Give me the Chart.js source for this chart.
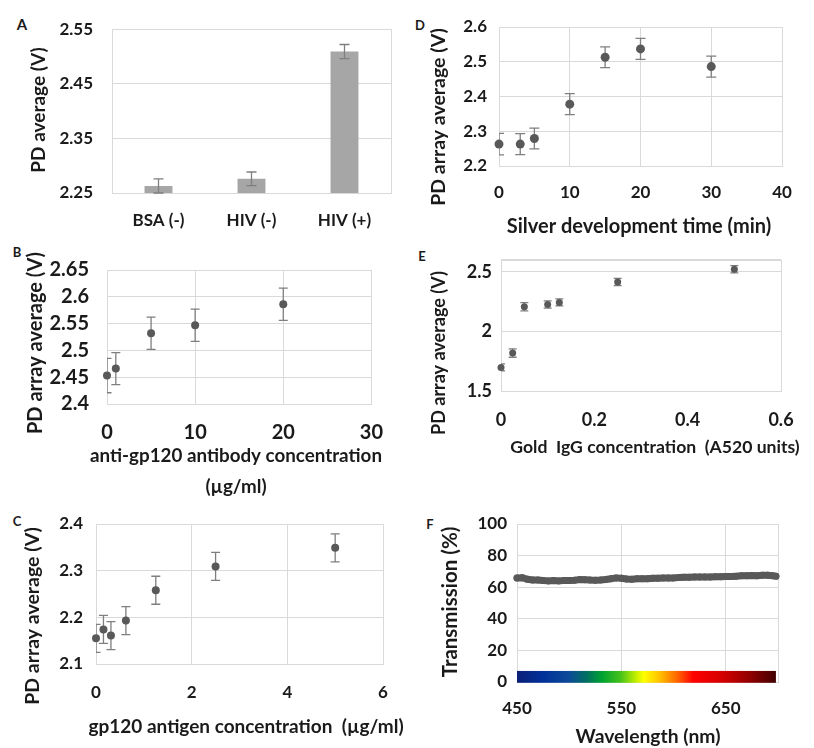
<!DOCTYPE html>
<html><head><meta charset="utf-8">
<script src="https://cdn.jsdelivr.net/npm/chart.js@4.4.1/dist/chart.umd.min.js"></script>
<style>
html,body{margin:0;padding:0;background:#fff;}
body{width:814px;height:748px;position:relative;overflow:hidden;font-family:Lato,sans-serif;}
canvas{position:absolute;}
.lbl{position:absolute;font-weight:bold;font-size:13px;font-family:Lato,sans-serif;color:#1a1a1a;transform:translate(-50%,-50%);line-height:1;}
</style></head><body>
<div class="lbl" style="left:22px;top:24px;font-size:15px">A</div>
<div class="lbl" style="left:420px;top:25px">D</div>
<div class="lbl" style="left:17px;top:252px">B</div>
<div class="lbl" style="left:422px;top:256px">E</div>
<div class="lbl" style="left:17px;top:521px">C</div>
<div class="lbl" style="left:430px;top:524px">F</div>
<canvas id="cA" width="400" height="240" style="left:0;top:0"></canvas>
<canvas id="cD" width="414" height="240" style="left:400px;top:0"></canvas>
<canvas id="cB" width="400" height="264" style="left:0;top:240px"></canvas>
<canvas id="cE" width="414" height="240" style="left:400px;top:240px"></canvas>
<canvas id="cF" width="414" height="248" style="left:400px;top:500px"></canvas>
<canvas id="cC" width="412" height="248" style="left:0;top:500px"></canvas>
<script>
// ---------- DATA ----------
const catA = ['BSA (-)', 'HIV (-)', 'HIV (+)'];
const valA = [2.263, 2.276, 2.509];
const errA = [0.013, 0.0125, 0.013];

const timeD = [0, 3, 5, 10, 15, 20, 30];
const valD = [2.263, 2.263, 2.279, 2.378, 2.513, 2.537, 2.486];
const errD = [0.031, 0.03, 0.03, 0.03, 0.03, 0.03, 0.03];

const concB = [0, 1, 5, 10, 20];
const valB = [2.453, 2.466, 2.532, 2.547, 2.586];
const errB = [0.032, 0.03, 0.03, 0.03, 0.03];

const goldE = [0, 0.025, 0.05, 0.1, 0.125, 0.25, 0.5];
const valE = [1.698, 1.818, 2.206, 2.225, 2.243, 2.414, 2.521];
const errE = [0.03, 0.035, 0.035, 0.03, 0.03, 0.03, 0.03];
const yTicksE = [1.5, 2, 2.5, 2.6];

const concC = [0, 0.156, 0.3125, 0.625, 1.25, 2.5, 5];
const valC = [2.155, 2.174, 2.161, 2.193, 2.258, 2.309, 2.349];
const errC = [0.03, 0.03, 0.03, 0.03, 0.03, 0.03, 0.03];

const waveF = [450,455,460,465,470,475,480,485,490,495,500,505,510,515,520,525,530,535,540,545,550,555,560,565,570,575,580,585,590,595,600,605,610,615,620,625,630,635,640,645,650,655,660,665,670,675,680,685,690,695,698];
const transF = [65.8,66.0,65.0,64.6,64.6,64.3,64.0,64.2,64.0,64.3,64.2,64.4,64.8,64.7,64.5,64.4,64.6,64.9,65.4,65.9,65.7,65.2,65.1,65.3,65.4,65.4,65.6,65.6,65.8,65.8,65.9,66.1,66.3,66.3,66.4,66.4,66.4,66.5,66.6,66.6,66.7,66.8,67.0,67.2,67.3,67.4,67.3,67.5,67.6,67.2,67.0];
const xTicksF = [450, 550, 650, 700];
const spectrumF = {from: 450, to: 698, low: -0.5, high: 7};

// ---------- STYLE ----------
const GRID = '#d9d9d9';
const TXT = '#1a1a1a';
const FONT = 'Lato';
const MARK = '#595959';
const ERR = '#7f7f7f';

// ---------- PLUGINS ----------
const boxPlugin = {
  id: 'box',
  beforeDatasetsDraw(chart) {
    const a = chart.chartArea, ctx = chart.ctx;
    ctx.save(); ctx.strokeStyle = GRID; ctx.lineWidth = 1;
    ctx.strokeRect(Math.round(a.left) + 0.5, Math.round(a.top) + 0.5, Math.round(a.right - a.left), Math.round(a.bottom - a.top));
    ctx.restore();
  }
};
function drawErr(chart, onTop) {
  const ctx = chart.ctx;
  chart.data.datasets.forEach((ds, i) => {
    if (!ds.errors || !!ds.errorOnTop !== onTop) return;
    const meta = chart.getDatasetMeta(i);
    const ys = chart.scales[meta.yAxisID];
    const a = chart.chartArea;
    ctx.save();
    ctx.beginPath(); ctx.rect(a.left, a.top - 2, a.right - a.left, a.bottom - a.top + 4); ctx.clip();
    ctx.strokeStyle = ds.errorColor || ERR; ctx.lineWidth = 1.3;
    const cap = ds.capHalf || 5;
    meta.data.forEach((el, j) => {
      const d = ds.data[j];
      const v = (typeof d === 'object') ? d.y : d;
      const e = ds.errors[j];
      const x = el.x;
      const t = ys.getPixelForValue(v + e), b = ys.getPixelForValue(v - e);
      ctx.beginPath();
      ctx.moveTo(x, t); ctx.lineTo(x, b);
      ctx.moveTo(x - cap, t); ctx.lineTo(x + cap, t);
      ctx.moveTo(x - cap, b); ctx.lineTo(x + cap, b);
      ctx.stroke();
    });
    ctx.restore();
  });
}
const errPlugin = {
  id: 'errbars',
  beforeDatasetsDraw(chart) { drawErr(chart, false); },
  afterDatasetsDraw(chart) { drawErr(chart, true); }
};
Chart.register(boxPlugin, errPlugin);
Chart.defaults.font.family = FONT;
Chart.defaults.color = TXT;

// axis titles (text lives in the scales' title options), drawn at given spots
function titlesPlugin(pos) {
  return {
    id: 'axisTitles',
    afterDraw(chart) {
      const ctx = chart.ctx;
      ['x', 'y'].forEach(k => {
        const p = pos[k]; const sc = chart.scales[k];
        if (!p || !sc || !sc.options.title || !sc.options.title.text) return;
        const lines = [].concat(sc.options.title.text);
        ctx.save();
        ctx.translate(p.x, p.y);
        if (k === 'y') ctx.rotate(-Math.PI / 2);
        ctx.font = 'bold ' + p.size + 'px ' + FONT;
        ctx.fillStyle = TXT; ctx.textAlign = 'center'; ctx.textBaseline = 'middle';
        lines.forEach((t, i) => ctx.fillText(t, 0, i * (p.lh || 0)));
        ctx.restore();
      });
    }
  };
}
function spectrumPlugin(band) {
  return {
    id: 'spectrum',
    beforeDatasetsDraw(chart) {
      const xs = chart.scales.x, ys = chart.scales.y, ctx = chart.ctx;
      const x0 = xs.getPixelForValue(band.from), x1 = xs.getPixelForValue(band.to);
      const y0 = ys.getPixelForValue(band.high), y1 = ys.getPixelForValue(band.low);
      const g = ctx.createLinearGradient(x0, 0, x1, 0);
      [[0,'#0b1f78'],[0.1,'#00309a'],[0.2,'#0d4a98'],[0.27,'#007060'],[0.33,'#00a330'],[0.4,'#45c21a'],
       [0.46,'#c4ef00'],[0.49,'#ffff00'],[0.55,'#ffc200'],[0.62,'#ff6400'],[0.68,'#ff0000'],
       [0.8,'#d20000'],[0.9,'#900000'],[1,'#420000']].forEach(s => g.addColorStop(s[0], s[1]));
      ctx.save(); ctx.fillStyle = g; ctx.fillRect(x0, y0, x1 - x0, y1 - y0); ctx.restore();
    }
  };
}

// ---------- HELPERS ----------
const fmt = v => String(+(+v).toFixed(4));
function xAxis(o) {
  const ax = {
    type: 'linear', min: o.min, max: o.max,
    afterFit: s => { s.height = o.h; },
    grid: { display: o.grid, color: GRID, drawTicks: false },
    border: { display: false },
    ticks: { stepSize: o.step, padding: o.pad, color: TXT, font: { size: o.fs || 17, weight: 'bold' }, maxRotation: 0, autoSkip: false,
             callback: o.cb || fmt },
    title: { display: false, text: o.title }
  };
  if (o.ticksList) ax.afterBuildTicks = s => { s.ticks = o.ticksList.map(v => ({ value: v })); };
  return ax;
}
function yAxis(o) {
  const ax = {
    type: 'linear', min: o.min, max: o.max,
    afterFit: s => { s.width = o.w; },
    grid: { display: true, color: GRID, drawTicks: false },
    border: { display: false },
    ticks: { stepSize: o.step, padding: o.pad, color: TXT, font: { size: o.fs || 17, weight: 'bold' }, autoSkip: false, callback: o.cb || fmt },
    title: { display: false, text: o.title }
  };
  if (o.ticksList) ax.afterBuildTicks = s => { s.ticks = o.ticksList.map(v => ({ value: v })); };
  return ax;
}
function baseOpts(pad, scales) {
  return {
    responsive: false, animation: false, devicePixelRatio: 1,
    layout: { padding: { top: pad.top, right: pad.right, bottom: 0, left: 0 } },
    plugins: { legend: { display: false }, tooltip: { enabled: false } },
    scales: scales
  };
}
function pts(xs, ys) { return xs.map((x, i) => ({ x: x, y: ys[i] })); }
function scatterDs(xs, ys, errs, r, cap) {
  return { data: pts(xs, ys), errors: errs, capHalf: cap, backgroundColor: MARK, borderColor: MARK,
    pointRadius: r, pointBorderWidth: 0, showLine: false, clip: false };
}

// ---------- A ----------
new Chart(document.getElementById('cA'), {
  type: 'bar',
  data: { labels: catA, datasets: [{ data: valA, errors: errA, errorOnTop: true, capHalf: 5, backgroundColor: '#a6a6a6', barPercentage: 0.3, categoryPercentage: 1 }] },
  options: baseOpts({ top: 27, right: 9 }, {
    x: { type: 'category', afterFit: s => { s.height = 47; }, grid: { display: false, drawTicks: false }, border: { display: false },
         ticks: { padding: 17.8, color: TXT, font: { size: 17, weight: 'bold' } } },
    y: yAxis({ min: 2.25, max: 2.55, step: 0.1, w: 112, pad: 19, title: 'PD average (V)' })
  }),
  plugins: [titlesPlugin({ y: { x: 39, y: 110, size: 19 } })]
});

// ---------- D ----------
new Chart(document.getElementById('cD'), {
  type: 'scatter',
  data: { datasets: [scatterDs(timeD, valD, errD, 4.5, 5)] },
  options: baseOpts({ top: 27, right: 32 }, {
    x: xAxis({ min: 0, max: 40, step: 10, h: 74, pad: 16.8, grid: true, title: 'Silver development time (min)' }),
    y: yAxis({ min: 2.2, max: 2.6, step: 0.1, w: 99, pad: 12, title: 'PD array average (V)' })
  }),
  plugins: [titlesPlugin({ y: { x: 39, y: 117, size: 19.5 }, x: { x: 239, y: 227, size: 20 } })]
});

// ---------- B ----------
new Chart(document.getElementById('cB'), {
  type: 'scatter',
  data: { datasets: [scatterDs(concB, valB, errB, 4, 4.5)] },
  options: baseOpts({ top: 14, right: 21 }, {
    x: xAxis({ min: 0, max: 30, step: 10, h: 100, pad: 17, fs: 20, grid: true, title: ['anti-gp120 antibody concentration', '(\u00b5g/ml)'] }),
    y: yAxis({ min: 2.4, max: 2.65, step: 0.05, w: 107, pad: 18, fs: 20, title: 'PD array average (V)' })
  }),
  plugins: [titlesPlugin({ y: { x: 36, y: 103, size: 20 }, x: { x: 236, y: 216, size: 18.8, lh: 31 } })]
});

// ---------- E ----------
new Chart(document.getElementById('cE'), {
  type: 'scatter',
  data: { datasets: [scatterDs(goldE, valE, errE, 3.5, 4)] },
  options: baseOpts({ top: 15, right: 33 }, {
    x: xAxis({ min: 0, max: 0.6, step: 0.2, h: 89, pad: 18.2, fs: 18, grid: false, title: 'Gold  IgG concentration  (A520 units)' }),
    y: yAxis({ min: 1.5, max: 2.6, ticksList: yTicksE, w: 101, pad: 9, fs: 18, title: 'PD array average (V)', cb: v => (Math.abs(v - 2.6) < 1e-9 ? '' : fmt(v)) })
  }),
  plugins: [titlesPlugin({ y: { x: 39, y: 113, size: 18 }, x: { x: 255, y: 207, size: 17.6 } })]
});

// ---------- C ----------
new Chart(document.getElementById('cC'), {
  type: 'scatter',
  data: { datasets: [scatterDs(concC, valC, errC, 4, 4.5)] },
  options: baseOpts({ top: 24, right: 29 }, {
    x: xAxis({ min: 0, max: 6, step: 2, h: 84, pad: 18.8, grid: true, title: 'gp120 antigen concentration  (\u00b5g/ml)' }),
    y: yAxis({ min: 2.1, max: 2.4, step: 0.1, w: 96, pad: 13, title: 'PD array average (V)' })
  }),
  plugins: [titlesPlugin({ y: { x: 33, y: 116, size: 19.5 }, x: { x: 246, y: 227, size: 19 } })]
});

// ---------- F ----------
new Chart(document.getElementById('cF'), {
  type: 'scatter',
  data: { datasets: [{ data: pts(waveF, transF), backgroundColor: MARK, borderColor: MARK, borderWidth: 7, pointRadius: 3.5, pointBorderWidth: 0, showLine: true, clip: false, borderCapStyle: 'round', borderJoinStyle: 'round' }] },
  options: baseOpts({ top: 24, right: 36 }, {
    x: xAxis({ min: 450, max: 700, ticksList: xTicksF, h: 66, pad: 16.8, grid: true, title: 'Wavelength (nm)', cb: v => (v === 700 ? '' : fmt(v)) }),
    y: yAxis({ min: 0, max: 100, step: 20, w: 117, pad: 10, title: 'Transmission (%)' })
  }),
  plugins: [spectrumPlugin(spectrumF), titlesPlugin({ y: { x: 50, y: 102, size: 20.5 }, x: { x: 248, y: 237, size: 19.3 } })]
});
</script>
</body></html>
